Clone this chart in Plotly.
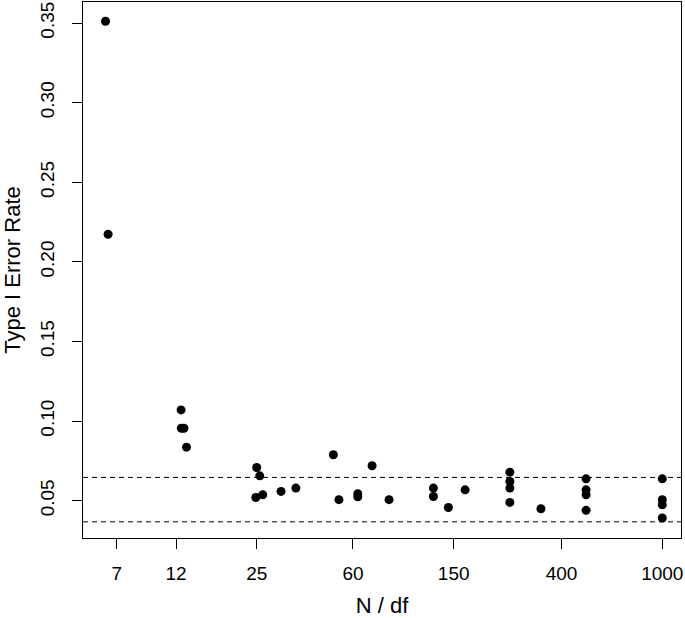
import plotly.graph_objects as go

# N/df ratio for each simulation condition
n_per_df = [6.32, 6.47,
            12.57, 12.6, 12.9, 13.2,
            25.0, 25.7, 24.8, 26.4, 31.2, 35.7,
            50.2, 52.8, 62.7, 62.7, 71.4, 83.3,
            124.7, 124.7, 142.9, 166.4,
            250, 250, 250, 250, 331.6,
            500, 500, 500, 500,
            1000, 1000, 1000, 1000]
# Empirical Type I error rates
type1_rate = [0.3511, 0.2173,
              0.1070, 0.0955, 0.0955, 0.0836,
              0.0708, 0.0656, 0.0520, 0.0537, 0.0558, 0.0579,
              0.0788, 0.0506, 0.0543, 0.0524, 0.0719, 0.0506,
              0.0579, 0.0526, 0.0457, 0.0568,
              0.0679, 0.0620, 0.0579, 0.0489, 0.0449,
              0.0637, 0.0568, 0.0537, 0.0439,
              0.0637, 0.0506, 0.0474, 0.0391]
# Reference bounds
bounds = [0.0646, 0.0367]

x_ticks = [7, 12, 25, 60, 150, 400, 1000]
x_ticktext = ["7", "12", "25", "60", "150", "400", "1000"]
y_ticks = [0.05, 0.10, 0.15, 0.20, 0.25, 0.30, 0.35]
y_ticktext = ["0.05", "0.10", "0.15", "0.20", "0.25", "0.30", "0.35"]

FONT = "Liberation Sans, Arial, Helvetica, sans-serif"

fig = go.Figure()
fig.add_trace(go.Scatter(
    x=n_per_df, y=type1_rate, mode="markers",
    marker=dict(color="black", size=9, line=dict(width=0)),
    showlegend=False, hoverinfo="x+y"))

for b in bounds:
    fig.add_hline(y=b, line=dict(color="black", width=1, dash="5px,4px"))

fig.update_layout(
    width=685, height=618,
    margin=dict(l=83, r=4, t=2, b=80),
    plot_bgcolor="white", paper_bgcolor="white",
    font=dict(family=FONT, size=18, color="black"),
    showlegend=False,
)
fig.update_xaxes(
    type="log", range=[0.7118, 3.0739], automargin=False,
    tickvals=x_ticks, ticktext=x_ticktext,
    ticks="outside", ticklen=10, tickwidth=1, tickcolor="black",
    showline=True, linecolor="black", linewidth=1.3, mirror=True,
    showgrid=False, zeroline=False,
    tickfont=dict(size=19),
    ticklabelstandoff=8,
    title=dict(text="N / df", standoff=16, font=dict(size=22)),
)
fig.update_yaxes(
    range=[0.02654, 0.3632], automargin=False,
    tickvals=y_ticks, ticktext=y_ticktext, tickangle=-90,
    ticks="outside", ticklen=10, tickwidth=1, tickcolor="black",
    showline=True, linecolor="black", linewidth=1.3, mirror=True,
    showgrid=False, zeroline=False,
    tickfont=dict(size=19),
    ticklabelstandoff=10,
    title=dict(text="Type I Error Rate", standoff=14, font=dict(size=22)),
)

fig.write_html("out.html", config={"displayModeBar": False},
               post_script="document.body.style.margin='0px';")
